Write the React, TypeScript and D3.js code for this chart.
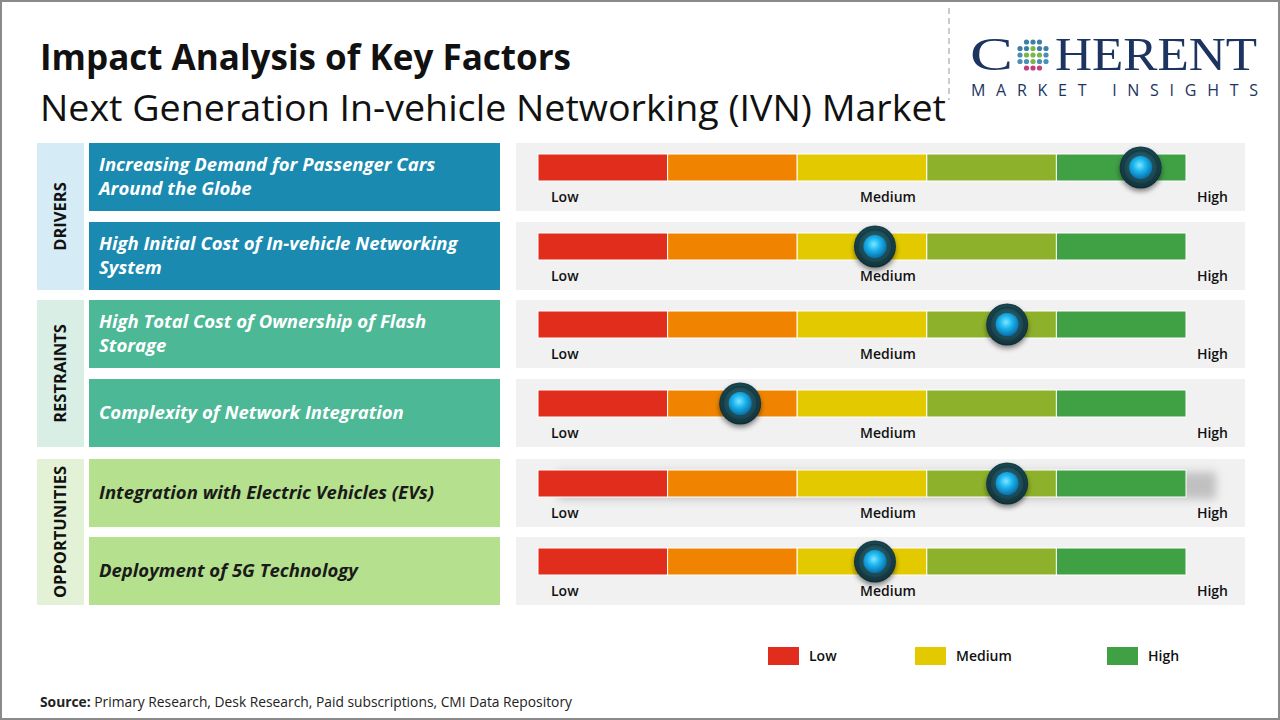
import React from "react";
import * as d3 from "d3";

const groups = ["DRIVERS", "RESTRAINTS", "OPPORTUNITIES"];
const groupFill = ["#d5ebf5", "#d9efe6", "#e3f2d6"];
const factors = [
  "Increasing Demand for Passenger Cars|Around the Globe",
  "High Initial Cost of In-vehicle Networking|System",
  "High Total Cost of Ownership of Flash|Storage",
  "Complexity of Network Integration",
  "Integration with Electric Vehicles (EVs)",
  "Deployment of 5G Technology",
];
const factorGroup = [0, 0, 1, 1, 2, 2];
const factorFill = ["#1a8ab0", "#4cb896", "#b5e08e"];
const factorText = ["#ffffff", "#ffffff", "#1a1a1a"];
const impact = [4.65, 2.6, 3.62, 1.56, 3.62, 2.6];
const levels = [0, 1, 2, 3, 4];
const segColors = ["#e02d1c", "#f08400", "#e3c900", "#8db12a", "#3fa044"];
const scaleLabels = ["Low", "Medium", "High"];
const legendItems = ["Low", "Medium", "High"];
const legendColors = ["#e02d1c", "#e3c900", "#3fa044"];

export default function App() {
  const W = 1280, H = 720;
  const rowTop = [143, 222, 300, 379, 459, 537];
  const rowH = 68;
  const x = d3.scaleLinear().domain([0, 5]).range([538, 1186]);
  const font = "'Open Sans', sans-serif";
  const groupRows = groups.map((_, g) => rowTop.filter((_, i) => factorGroup[i] === g));
  const legendX = d3.scaleOrdinal<string, number>().domain(legendItems).range([768, 915, 1107]);

  return (
    <svg width={W} height={H} style={{ position: "absolute", left: 0, top: 0 }} fontFamily={font}>
      <defs>
        <radialGradient id="knobOuter" cx="50%" cy="45%" r="55%">
          <stop offset="0%" stopColor="#2f6f7c" />
          <stop offset="70%" stopColor="#1b4852" />
          <stop offset="100%" stopColor="#0f2a31" />
        </radialGradient>
        <radialGradient id="knobInner" cx="45%" cy="40%" r="60%">
          <stop offset="0%" stopColor="#7fe6ff" />
          <stop offset="45%" stopColor="#1cb6f0" />
          <stop offset="100%" stopColor="#0a6fa8" />
        </radialGradient>
        <filter id="shadow" x="-30%" y="-30%" width="160%" height="170%">
          <feDropShadow dx="0" dy="3" stdDeviation="2.5" floodColor="#000" floodOpacity="0.45" />
        </filter>
        <filter id="blurBar" x="-5%" y="-60%" width="110%" height="220%">
          <feGaussianBlur stdDeviation="5" />
        </filter>
      </defs>
      <rect x={0} y={0} width={W} height={H} fill="#ffffff" />
      <rect x={1} y={1} width={W - 2} height={H - 2} fill="none" stroke="#8a8a8a" strokeWidth={2} />

      <text x={40} y={70} fontSize={35} fontWeight={700} fill="#111" textLength={531} lengthAdjust="spacingAndGlyphs">Impact Analysis of Key Factors</text>
      <text x={40} y={121} fontSize={36} fill="#111" textLength={906} lengthAdjust="spacingAndGlyphs">Next Generation In-vehicle Networking (IVN) Market</text>

      <line x1={949} y1={8} x2={949} y2={100} stroke="#bbb" strokeDasharray="6,4" strokeWidth={1.5} />
      <g>
        <text x={970} y={70} fontFamily="'Liberation Serif', serif" fontSize={47} fill="#1d3461" textLength={43} lengthAdjust="spacingAndGlyphs">C</text>
        {d3.range(-2, 3).flatMap((r) =>
          d3.range(-2, 3).map((c) => {
            const cx = 1033 + c * 6.5, cy = 55 + r * 6.5;
            const d = Math.hypot(r, c);
            if (d > 2.3) return null;
            const col = d < 1.2 ? "#7ab648" : r < 0 ? "#3c7fa6" : (r > 1 ? "#c0407a" : "#4a8fb8");
            return <circle key={`${r}-${c}`} cx={cx} cy={cy} r={2.6} fill={col} />;
          })
        )}
        <text x={1055} y={70} fontFamily="'Liberation Serif', serif" fontSize={47} fill="#1d3461" textLength={202} lengthAdjust="spacingAndGlyphs">HERENT</text>
        <text x={971} y={96} fontSize={16} fill="#1d3461" textLength={287} lengthAdjust="spacing">MARKET INSIGHTS</text>
      </g>

      {groups.map((g, gi) => {
        const top = groupRows[gi][0];
        const bottom = groupRows[gi][groupRows[gi].length - 1] + rowH;
        const cy = (top + bottom) / 2;
        return (
          <g key={g}>
            <rect x={37} y={top} width={47} height={bottom - top} fill={groupFill[gi]} />
            <text x={0} y={0} transform={`translate(66,${cy}) rotate(-90)`} textAnchor="middle" fontSize={16.5} fontWeight={700} fill="#111">{g}</text>
          </g>
        );
      })}

      {factors.map((f, i) => {
        const g = factorGroup[i];
        const y = rowTop[i];
        const lines = f.split("|");
        const cy = y + rowH / 2;
        const by = x(0);
        const barY = y + 11, barH = 27;
        return (
          <g key={i}>
            <rect x={89} y={y} width={411} height={rowH} fill={factorFill[g]} />
            {lines.map((l, li) => (
              <text key={li} x={99} y={cy + 6 + (li - (lines.length - 1) / 2) * 24} fontSize={18.5} fontWeight={700} fontStyle="italic" fill={factorText[g]}>{l}</text>
            ))}
            <rect x={516} y={y} width={729} height={rowH} fill="#f1f1f1" />
            {i === 4 && (
              <rect x={by + 20} y={barY + 2} width={x(5) - by + 10} height={barH} fill="#666" opacity={0.35} filter="url(#blurBar)" />
            )}
            {levels.map((lv) => (
              <rect key={lv} x={x(lv)} y={barY} width={x(lv + 1) - x(lv)} height={barH} fill={segColors[lv]} stroke="#ffffff" strokeWidth={1} />
            ))}
            <text x={551} y={y + 59} fontSize={14} fontWeight={600} fill="#111">{scaleLabels[0]}</text>
            <text x={888} y={y + 59} fontSize={14} fontWeight={600} fill="#111" textAnchor="middle">{scaleLabels[1]}</text>
            <text x={1228} y={y + 59} fontSize={14} fontWeight={600} fill="#111" textAnchor="end">{scaleLabels[2]}</text>
            <g filter="url(#shadow)">
              <circle cx={x(impact[i])} cy={barY + barH / 2} r={21} fill="url(#knobOuter)" />
            </g>
            <circle cx={x(impact[i])} cy={barY + barH / 2} r={17} fill="none" stroke="#143a42" strokeWidth={1.5} />
            <circle cx={x(impact[i])} cy={barY + barH / 2} r={11.5} fill="url(#knobInner)" />
          </g>
        );
      })}

      {legendItems.map((l, i) => (
        <g key={l}>
          <rect x={legendX(l)} y={647} width={31} height={18} fill={legendColors[i]} />
          <text x={legendX(l) + 41} y={661} fontSize={14} fontWeight={600} fill="#111">{l}</text>
        </g>
      ))}

      <text x={40} y={707} fontSize={14} fill="#222" textLength={532} lengthAdjust="spacingAndGlyphs">
        <tspan fontWeight={700}>Source:</tspan> Primary Research, Desk Research, Paid subscriptions, CMI Data Repository
      </text>
    </svg>
  );
}
